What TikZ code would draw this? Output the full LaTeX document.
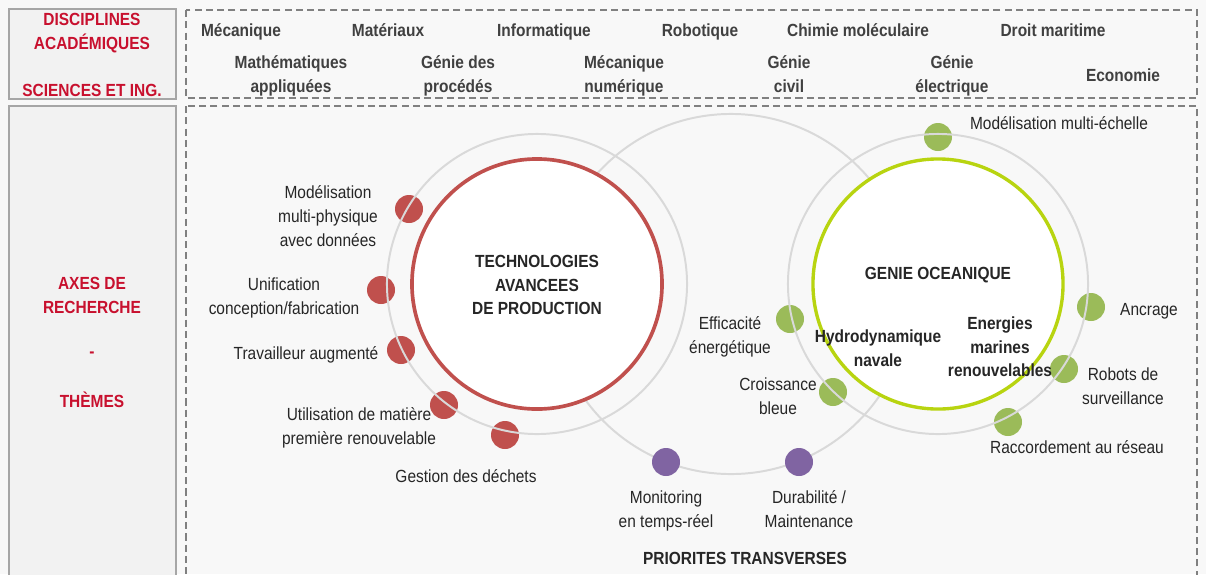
\documentclass[tikz,border=0pt]{standalone}
\usepackage{fontspec}
\setmainfont[FakeStretch=0.88]{Liberation Sans}

\definecolor{bg}{RGB}{248,248,248}
\definecolor{panel}{RGB}{242,242,242}
\definecolor{panelline}{RGB}{166,166,166}
\definecolor{dashline}{RGB}{128,128,128}
\definecolor{titlered}{RGB}{200,16,46}
\definecolor{txt}{RGB}{38,38,38}
\definecolor{disctxt}{RGB}{64,64,64}
\definecolor{ringgray}{RGB}{217,217,217}
\definecolor{tapred}{RGB}{192,80,77}
\definecolor{geogreen}{RGB}{155,187,89}
\definecolor{geolime}{RGB}{184,212,16}
\definecolor{transpurple}{RGB}{128,100,162}

\tikzset{
  lbl/.style={font=\fontsize{12.5}{16.8}\selectfont, text=txt, align=center, inner sep=0pt},
  hdr/.style={lbl, font=\fontsize{12.5}{16.8}\selectfont\bfseries},
  side/.style={hdr, text=titlered},
  disc/.style={hdr, text=disctxt, anchor=base},
  sidebox/.style={draw=panelline, line width=1.4pt, fill=panel},
  dashbox/.style={draw=dashline, line width=0.9pt, dash pattern=on 5pt off 3pt},
  ring/.style={circle, draw=ringgray, line width=1.4pt, minimum size=#1, inner sep=0pt},
  core/.style={circle, fill=white, line width=2.6pt, minimum size=6.25cm, inner sep=0pt},
  dot/.style={circle, fill=#1, minimum size=0.7cm, inner sep=0pt},
}

\begin{document}
\begin{tikzpicture}[x=0.025cm, y=-0.025cm]
\useasboundingbox[fill=bg] (0,0) rectangle (1206,574);

% panels
\draw[sidebox] (9,9) rectangle (176,99);
\draw[sidebox] (9,106) rectangle (176,590);
\draw[dashbox] (186,10) rectangle (1197,98);
\draw[dashbox] (186,106) rectangle (1197,590);

% left headers
\node[side] (da1) at (92,19) {DISCIPLINES};
\node[side] (da2) at (92,43) {ACADÉMIQUES};
\node[side] (da3) at (92,90) {SCIENCES ET ING.};
\node[side] (ax1) at (92,283) {AXES DE};
\node[side] (ax2) at (92,307) {RECHERCHE};
\node[side] (ax3) at (92,355) {-};
\node[side] (ax4) at (92,400) {THÈMES};

% disciplines (base = last line)
\node[disc] (meca) at (241,36) {Mécanique};
\node[disc] (mat) at (388,36) {Matériaux};
\node[disc] (info) at (544,36) {Informatique};
\node[disc] (robo) at (700,36) {Robotique};
\node[disc] (chim) at (858,36) {Chimie moléculaire};
\node[disc] (droit) at (1053,36) {Droit maritime};
\node[disc] (math) at (291,92) {Mathématiques\\appliquées};
\node[disc] (proc) at (458,92) {Génie des\\procédés};
\node[disc] (num) at (624,92) {Mécanique\\numérique};
\node[disc] (civil) at (789,92) {Génie\\civil};
\node[disc] (elec) at (952,92) {Génie\\électrique};
\node[disc] (eco) at (1123,81) {Economie};

% themes under the rings
\node[dot=tapred] (t1) at (409,209) {};
\node[dot=tapred] (t2) at (381,290) {};
\node[dot=tapred] (t3) at (401,350) {};
\node[dot=tapred] (t4) at (444,405) {};
\node[dot=tapred] (t5) at (505,435) {};
\node[dot=geogreen] (g1) at (938,137) {};
\node[dot=geogreen] (g2) at (1091,307) {};
\node[dot=geogreen] (g3) at (1064,369) {};
\node[dot=geogreen] (g4) at (1008,422) {};
\node[dot=geogreen] (g5) at (790,319) {};
\node[dot=geogreen] (g6) at (833,392) {};

% rings
\node[ring=7.5cm] (tapring) at (537,284) {};
\node[ring=7.5cm] (georing) at (938,284) {};
\node[ring=9cm] (transring) at (731,294) {};
\node[core, draw=tapred] (tap) at (537,284) {};
\node[core, draw=geolime, line width=2.4pt] (geo) at (938,284) {};

\node[dot=transpurple] (p1) at (666,462) {};
\node[dot=transpurple] (p2) at (799,462) {};

% ring titles
\node[hdr] (taptitle) at (537,285) {TECHNOLOGIES\\AVANCEES\\DE PRODUCTION};
\node[hdr] (geotitle) at (938,275) {GENIE OCEANIQUE};
\node[hdr] (hydro) at (878,348) {Hydrodynamique\\navale};
\node[hdr] (emr) at (1000,347) {Energies\\marines\\renouvelables};
\node[hdr] (transtitle) at (745,558) {PRIORITES TRANSVERSES};

% theme labels
\node[lbl] (t1l) at (328,216) {Modélisation\\multi-physique\\avec données};
\node[lbl] (t2l) at (284,298) {Unification\\conception/fabrication};
\node[lbl] (t3l) at (306,355) {Travailleur augmenté};
\node[lbl] (t4l) at (359,428) {Utilisation de matière\\première renouvelable};
\node[lbl] (t5l) at (466,476) {Gestion des déchets};
\node[lbl] (g1l) at (1059,123) {Modélisation multi-échelle};
\node[lbl] (g2l) at (1149,311) {Ancrage};
\node[lbl] (g3l) at (1123,386) {Robots de\\surveillance};
\node[lbl] (g4l) at (1077,447) {Raccordement au réseau};
\node[lbl] (g5l) at (730,337) {Efficacité\\énergétique};
\node[lbl] (g6l) at (778,396) {Croissance\\bleue};
\node[lbl] (p1l) at (666,511) {Monitoring\\en temps-réel};
\node[lbl] (p2l) at (809,509) {Durabilité /\\Maintenance};
\end{tikzpicture}
\end{document}
